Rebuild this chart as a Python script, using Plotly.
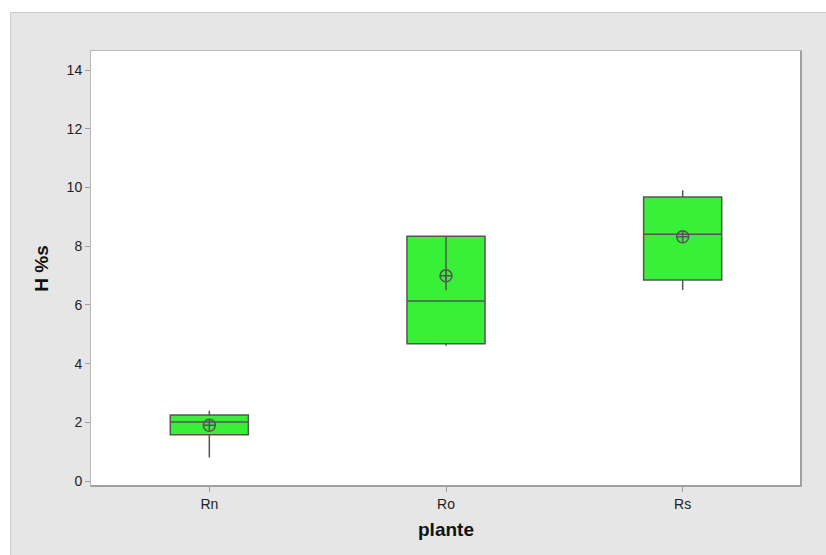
import plotly.graph_objects as go

# Summary statistics of H %s per plant
plantes = ["Rn", "Ro", "Rs"]
minimum = [0.80, 4.61, 6.51]
q1 = [1.58, 4.68, 6.85]
mediane = [2.01, 6.13, 8.41]
q3 = [2.25, 8.34, 9.68]
maximum = [2.39, 8.34, 9.91]
moyenne = [1.90, 6.99, 8.32]

# extra whisker segment drawn through the Ro box
ro_segment = [8.34, 6.50]

y_ticks = [0, 2, 4, 6, 8, 10, 12, 14]

BOX_FILL = "#37f037"
EDGE = "#555555"

fig = go.Figure()

fig.add_trace(go.Box(
    x=plantes,
    q1=q1, median=mediane, q3=q3,
    lowerfence=minimum, upperfence=maximum,
    width=0.33,
    whiskerwidth=0,
    fillcolor=BOX_FILL,
    line=dict(color=EDGE, width=1.5),
    boxpoints=False,
    hoverinfo="skip",
    showlegend=False,
))

fig.add_trace(go.Scatter(
    x=["Ro", "Ro"], y=ro_segment,
    mode="lines",
    line=dict(color=EDGE, width=1.5),
    hoverinfo="skip",
    showlegend=False,
))

fig.add_trace(go.Scatter(
    x=plantes, y=moyenne,
    mode="markers",
    marker=dict(symbol="circle-cross-open", size=12,
                color=EDGE, line=dict(width=1.5, color=EDGE)),
    hoverinfo="skip",
    showlegend=False,
))

# plot area geometry (pixels) used to place the outer panel
L, R, T, B = 91, 801, 51, 486
W, H = R - L, B - T


def px_x(p):
    return (p - L) / W


def px_y(p):
    return (B - p) / H


shapes = [
    # white page margin around the grey panel
    dict(type="rect", xref="paper", yref="paper",
         x0=px_x(0), x1=px_x(826), y0=px_y(12), y1=px_y(0),
         fillcolor="white", line=dict(width=0), layer="below"),
    dict(type="rect", xref="paper", yref="paper",
         x0=px_x(0), x1=px_x(10), y0=px_y(555), y1=px_y(0),
         fillcolor="white", line=dict(width=0), layer="below"),
    # panel border
    dict(type="line", xref="paper", yref="paper",
         x0=px_x(10.5), x1=px_x(826), y0=px_y(12.5), y1=px_y(12.5),
         line=dict(color="#cccccc", width=1), layer="below"),
    dict(type="line", xref="paper", yref="paper",
         x0=px_x(10.5), x1=px_x(10.5), y0=px_y(12.5), y1=px_y(555),
         line=dict(color="#cccccc", width=1), layer="below"),
    # darker right/bottom edge of the plot frame
    dict(type="line", xref="paper", yref="paper",
         x0=1, x1=1, y0=0, y1=1,
         line=dict(color="#a0a0a0", width=2)),
    dict(type="line", xref="paper", yref="paper",
         x0=0, x1=1, y0=0, y1=0,
         line=dict(color="#a0a0a0", width=2)),
]

fig.update_layout(
    width=826, height=555,
    margin=dict(l=L, r=826 - R, t=T, b=555 - B),
    paper_bgcolor="#e6e6e6",
    plot_bgcolor="white",
    font=dict(family="Liberation Sans, Arial, sans-serif", size=14, color="#222222"),
    shapes=shapes,
    xaxis=dict(
        type="category",
        range=[-0.5, 2.5],
        showgrid=False, zeroline=False,
        showline=True, mirror=True, linecolor="#b8b8b8", linewidth=1,
        ticks="outside", ticklen=5, tickcolor="#a0a0a0",
        title=dict(text="<b>plante</b>", font=dict(size=19, color="#111111"), standoff=11),
    ),
    yaxis=dict(
        range=[-0.17, 14.65],
        tickvals=y_ticks,
        showgrid=False, zeroline=False,
        showline=True, mirror=True, linecolor="#b8b8b8", linewidth=1,
        ticks="outside", ticklen=5, tickcolor="#a0a0a0",
        title=dict(text="<b>H %s</b>", font=dict(size=19, color="#111111"), standoff=12),
    ),
)

fig.write_html("out.html")
